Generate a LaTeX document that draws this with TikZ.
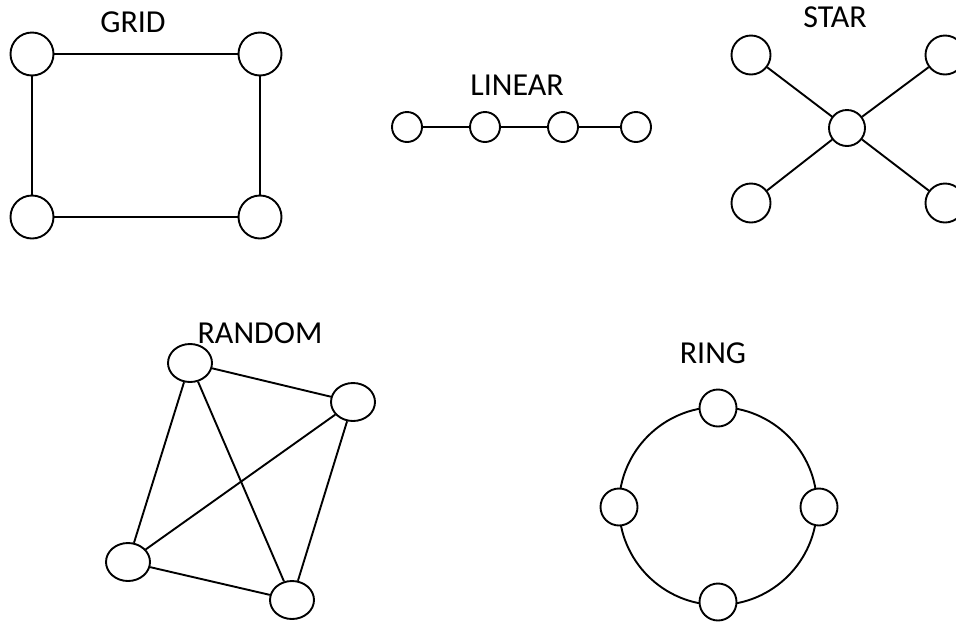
\documentclass[tikz,border=0pt]{standalone}
\usepackage{fontspec}
\setmainfont{Carlito}
\usetikzlibrary{shapes.geometric}
\begin{document}
\begin{tikzpicture}[x=1pt, y=-1pt, line width=1.9pt,
    vertex/.style={draw, circle, fill=white, inner sep=0pt, minimum size=#1},
    vertex/.default=43pt,
    blob/.style={draw, ellipse, fill=white, inner sep=0pt,
      minimum width=44pt, minimum height=38pt},
    title/.style={font=\fontsize{32}{38}\selectfont}]
  \useasboundingbox (0,0) rectangle (956,622);
  \clip (0,0) rectangle (956,622);
  % grid
  \node[title] (gridlbl) at (133,22) {GRID};
  \node[vertex] (g1) at (32,54) {};
  \node[vertex] (g2) at (260,54) {};
  \node[vertex] (g3) at (32,217) {};
  \node[vertex] (g4) at (260,217) {};
  \draw (g1) -- (g2) -- (g4) -- (g3) -- (g1);
  % linear
  \node[title] (linlbl) at (517,85) {LINEAR};
  \node[vertex=30pt] (l1) at (407,127) {};
  \node[vertex=30pt] (l2) at (485,127) {};
  \node[vertex=30pt] (l3) at (563,127) {};
  \node[vertex=30pt] (l4) at (636,127) {};
  \draw (l1) -- (l2) -- (l3) -- (l4);
  % star
  \node[title] (starlbl) at (835,17) {STAR};
  \node[vertex=36pt] (s0) at (847,128) {};
  \node[vertex=39pt] (s1) at (751,55) {};
  \node[vertex=39pt] (s2) at (945,55) {};
  \node[vertex=39pt] (s3) at (751,203) {};
  \node[vertex=39pt] (s4) at (945,203) {};
  \foreach \s in {s1,s2,s3,s4}
    \draw (s0) -- (\s);
  % random
  \node[title] (randlbl) at (260,333) {RANDOM};
  \node[blob] (r1) at (190,363) {};
  \node[blob] (r2) at (353,402) {};
  \node[blob] (r3) at (128,562) {};
  \node[blob] (r4) at (292,600) {};
  \draw (r1) -- (r2) -- (r4) -- (r3) -- (r1);
  \draw (r1) -- (r4);
  \draw (r2) -- (r3);
  % ring
  \node[title] (ringlbl) at (713,353) {RING};
  \coordinate (ringc) at (718,506);
  \draw (ringc) circle (99);
  \node[vertex=37pt] (q1) at (718,408) {};
  \node[vertex=37pt] (q2) at (819,507) {};
  \node[vertex=37pt] (q3) at (718,602) {};
  \node[vertex=37pt] (q4) at (619,507) {};
\end{tikzpicture}
\end{document}
